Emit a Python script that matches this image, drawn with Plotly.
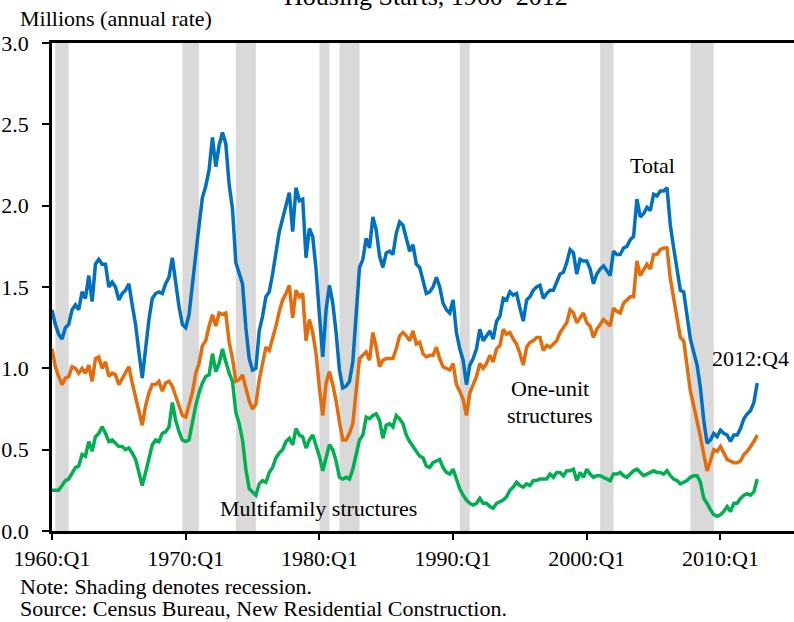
import plotly.graph_objects as go

# Quarterly housing starts, millions (annual rate), 1960:Q1 - 2012:Q4
years = list(range(1960, 2013))
quarter_labels = [f"{y}:Q{q}" for y in years for q in range(1, 5)]

total = [
    1.36, 1.27, 1.21, 1.18, 1.25, 1.27, 1.36, 1.39, 1.36, 1.47,
    1.43, 1.57, 1.41, 1.64, 1.67, 1.64, 1.64, 1.50, 1.53, 1.50,
    1.42, 1.46, 1.48, 1.52, 1.39, 1.27, 1.10, 0.94, 1.12, 1.30,
    1.43, 1.46, 1.47, 1.46, 1.52, 1.56, 1.68, 1.51, 1.38, 1.27,
    1.25, 1.33, 1.52, 1.74, 1.88, 2.05, 2.12, 2.22, 2.42, 2.24,
    2.37, 2.45, 2.38, 2.13, 1.98, 1.65, 1.59, 1.52, 1.25, 1.06,
    0.99, 1.00, 1.23, 1.32, 1.44, 1.47, 1.58, 1.71, 1.84, 1.92,
    2.01, 2.08, 1.84, 2.11, 2.03, 2.04, 1.68, 1.86, 1.81, 1.61,
    1.33, 1.07, 1.36, 1.51, 1.40, 1.22, 0.99, 0.88, 0.89, 0.92,
    1.04, 1.31, 1.62, 1.67, 1.80, 1.74, 1.93, 1.85, 1.69, 1.62,
    1.71, 1.72, 1.70, 1.83, 1.90, 1.88, 1.79, 1.72, 1.76, 1.64,
    1.62, 1.54, 1.46, 1.47, 1.50, 1.56, 1.50, 1.40, 1.36, 1.34,
    1.42, 1.22, 1.12, 1.05, 0.90, 1.02, 1.06, 1.12, 1.24, 1.17,
    1.20, 1.23, 1.18, 1.29, 1.32, 1.43, 1.42, 1.47, 1.45, 1.46,
    1.37, 1.29, 1.42, 1.44, 1.48, 1.50, 1.51, 1.43, 1.46, 1.48,
    1.48, 1.53, 1.58, 1.59, 1.65, 1.73, 1.71, 1.58, 1.67, 1.66,
    1.66, 1.61, 1.52, 1.58, 1.61, 1.63, 1.60, 1.57, 1.72, 1.70,
    1.70, 1.74, 1.75, 1.79, 1.81, 2.04, 1.93, 1.95, 1.99, 1.97,
    2.07, 2.06, 2.09, 2.09, 2.11, 1.88, 1.74, 1.62, 1.48, 1.47,
    1.31, 1.18, 1.10, 1.02, 0.88, 0.68, 0.54, 0.56, 0.60, 0.58,
    0.62, 0.60, 0.59, 0.55, 0.59, 0.59, 0.63, 0.69, 0.72, 0.74,
    0.79, 0.91,
]

one_unit = [
    1.12, 1.01, 0.95, 0.90, 0.94, 0.95, 1.01, 1.00, 0.97, 1.00,
    0.97, 1.02, 0.92, 1.06, 1.07, 1.00, 1.04, 0.95, 0.97, 0.96,
    0.90, 0.94, 0.98, 1.01, 0.91, 0.83, 0.75, 0.65, 0.77, 0.85,
    0.90, 0.90, 0.92, 0.86, 0.91, 0.92, 0.89, 0.83, 0.77, 0.71,
    0.70, 0.77, 0.85, 0.97, 1.03, 1.14, 1.17, 1.26, 1.33, 1.26,
    1.34, 1.33, 1.34, 1.16, 1.06, 0.92, 0.93, 0.96, 0.88, 0.80,
    0.75, 0.78, 0.93, 1.02, 1.13, 1.11, 1.18, 1.26, 1.35, 1.42,
    1.46, 1.51, 1.31, 1.48, 1.44, 1.46, 1.17, 1.30, 1.22, 1.09,
    0.88, 0.71, 0.91, 0.98, 0.90, 0.80, 0.67, 0.56, 0.56, 0.60,
    0.66, 0.85, 1.06, 1.08, 1.10, 1.05, 1.22, 1.13, 1.01, 1.05,
    1.06, 1.06, 1.06, 1.12, 1.20, 1.22, 1.20, 1.17, 1.23, 1.15,
    1.16, 1.09, 1.07, 1.08, 1.08, 1.13, 1.06, 1.01, 1.00, 0.99,
    1.03, 0.90, 0.86, 0.81, 0.71, 0.85, 0.90, 0.95, 1.03, 1.00,
    1.03, 1.08, 1.04, 1.12, 1.14, 1.24, 1.21, 1.22, 1.18, 1.15,
    1.09, 1.02, 1.13, 1.16, 1.17, 1.19, 1.19, 1.11, 1.14, 1.13,
    1.15, 1.17, 1.22, 1.25, 1.28, 1.36, 1.34, 1.28, 1.31, 1.34,
    1.28, 1.26, 1.19, 1.24, 1.27, 1.30, 1.28, 1.26, 1.37, 1.35,
    1.34, 1.40, 1.42, 1.44, 1.44, 1.66, 1.57, 1.61, 1.64, 1.61,
    1.70, 1.70, 1.73, 1.74, 1.74, 1.55, 1.43, 1.32, 1.19, 1.17,
    1.01, 0.86, 0.77, 0.68, 0.58, 0.47, 0.37, 0.43, 0.50, 0.49,
    0.52, 0.48, 0.44, 0.43, 0.42, 0.42, 0.43, 0.47, 0.49, 0.52,
    0.55, 0.59,
]

multifamily = [
    0.25, 0.25, 0.25, 0.28, 0.31, 0.32, 0.36, 0.39, 0.40, 0.47,
    0.46, 0.55, 0.49, 0.58, 0.60, 0.64, 0.60, 0.55, 0.56, 0.54,
    0.52, 0.52, 0.50, 0.51, 0.48, 0.44, 0.36, 0.28, 0.36, 0.45,
    0.53, 0.56, 0.55, 0.60, 0.61, 0.64, 0.79, 0.68, 0.61, 0.56,
    0.55, 0.56, 0.67, 0.77, 0.85, 0.91, 0.95, 0.96, 1.09, 0.98,
    1.03, 1.12, 1.04, 0.97, 0.92, 0.73, 0.66, 0.56, 0.38, 0.26,
    0.24, 0.22, 0.29, 0.31, 0.30, 0.36, 0.39, 0.45, 0.48, 0.50,
    0.55, 0.57, 0.53, 0.63, 0.59, 0.58, 0.51, 0.56, 0.59, 0.52,
    0.46, 0.37, 0.45, 0.53, 0.50, 0.43, 0.33, 0.32, 0.33, 0.32,
    0.38, 0.46, 0.56, 0.59, 0.70, 0.69, 0.71, 0.72, 0.68, 0.57,
    0.65, 0.66, 0.64, 0.71, 0.69, 0.66, 0.59, 0.55, 0.52, 0.49,
    0.46, 0.45, 0.40, 0.39, 0.42, 0.43, 0.44, 0.39, 0.36, 0.35,
    0.38, 0.32, 0.26, 0.22, 0.19, 0.17, 0.16, 0.17, 0.20, 0.17,
    0.17, 0.15, 0.14, 0.17, 0.18, 0.19, 0.21, 0.25, 0.27, 0.30,
    0.28, 0.27, 0.29, 0.28, 0.31, 0.31, 0.32, 0.32, 0.32, 0.35,
    0.33, 0.36, 0.36, 0.34, 0.37, 0.37, 0.38, 0.31, 0.36, 0.33,
    0.38, 0.35, 0.33, 0.34, 0.34, 0.33, 0.32, 0.31, 0.35, 0.35,
    0.36, 0.34, 0.33, 0.35, 0.37, 0.38, 0.36, 0.34, 0.35, 0.36,
    0.37, 0.36, 0.36, 0.35, 0.37, 0.34, 0.32, 0.31, 0.29, 0.30,
    0.31, 0.33, 0.34, 0.34, 0.30, 0.20, 0.17, 0.13, 0.10, 0.09,
    0.10, 0.12, 0.15, 0.12, 0.17, 0.17, 0.20, 0.22, 0.23, 0.22,
    0.24, 0.32,
]

# Recessions (decimal years)
rec_start = [1960.25, 1969.75, 1973.75, 1980.0, 1981.5, 1990.5, 2001.0, 2007.75]
rec_end = [1961.25, 1971.0, 1975.25, 1980.75, 1983.0, 1991.25, 2002.0, 2009.5]

tick_years = [1960, 1970, 1980, 1990, 2000, 2010]
tick_labels = ["1960:Q1", "1970:Q1", "1980:Q1", "1990:Q1", "2000:Q1", "2010:Q1"]
y_ticks = [0.0, 0.5, 1.0, 1.5, 2.0, 2.5, 3.0]

x_vals = [int(s[:4]) + (int(s[-1]) - 1) / 4 for s in quarter_labels]

FONT = "Liberation Serif, Times New Roman, serif"
BLUE = "#0070C0"
ORANGE = "#E46C0A"
GREEN = "#00B050"

fig = go.Figure()
for name, vals, col in [("Multifamily structures", multifamily, GREEN),
                        ("One-unit structures", one_unit, ORANGE),
                        ("Total", total, BLUE)]:
    fig.add_trace(go.Scatter(x=x_vals, y=vals, mode="lines", name=name,
                             text=quarter_labels,
                             line=dict(color=col, width=3.5),
                             hovertemplate="%{text}: %{y:.2f}<extra>" + name + "</extra>"))

for s, e in zip(rec_start, rec_end):
    fig.add_shape(type="rect", xref="x", yref="y", x0=s, x1=e, y0=0, y1=3.0,
                  fillcolor="#D9D9D9", line=dict(width=0), layer="below")

W, H = 794, 622
L, R, T, B = 52, 0, 43, 91
pw, ph = W - L - R, H - T - B

def px(x):
    return (x - L) / pw

def py(y):
    return (H - B - y) / ph

annots = [
    ("Housing Starts, 1960\u20132012", 426, -3.5, "center", 26),
    ("Millions (annual rate)", 18, 18.5, "left", 22),
    ("Total", 652.5, 165.5, "center", 22),
    ("2012:Q4", 750, 358.5, "center", 22),
    ("One-unit", 550, 388.5, "center", 22),
    ("structures", 550, 415.2, "center", 22),
    ("Multifamily structures", 318.7, 508.5, "center", 22),
    ("Note: Shading denotes recession.", 18, 586, "left", 22),
    ("Source: Census Bureau, New Residential Construction.", 18, 608.5, "left", 22),
]
for txt, x, y, xa, fs in annots:
    fig.add_annotation(text=txt, xref="paper", yref="paper", x=px(x), y=py(y),
                       xanchor=xa, yanchor="middle", showarrow=False,
                       font=dict(family=FONT, size=fs, color="black"))

fig.update_layout(
    width=W, height=H,
    margin=dict(l=L, r=R, t=T, b=B),
    paper_bgcolor="white", plot_bgcolor="white",
    showlegend=False,
    font=dict(family=FONT, size=22, color="black"),
)
fig.update_xaxes(range=[1960, 2015.5], tickvals=tick_years, ticktext=tick_labels,
                 showgrid=False, zeroline=False, showline=True, linecolor="black",
                 linewidth=2.5, mirror=True, ticks="outside", ticklen=6, tickwidth=2,
                 tickcolor="black", ticklabelstandoff=0,
                 tickfont=dict(family=FONT, size=22, color="black"))
fig.update_yaxes(range=[0, 3.0], tickvals=y_ticks, tickformat=".1f",
                 showgrid=False, zeroline=False, showline=True, linecolor="black",
                 linewidth=2.5, ticks="outside", ticklen=7, tickwidth=2,
                 tickcolor="black", ticklabelstandoff=9,
                 tickfont=dict(family=FONT, size=22, color="black"))

fig.write_html("out.html", config={"displayModeBar": False},
               post_script="document.body.style.margin='0';document.body.style.overflow='hidden';")
